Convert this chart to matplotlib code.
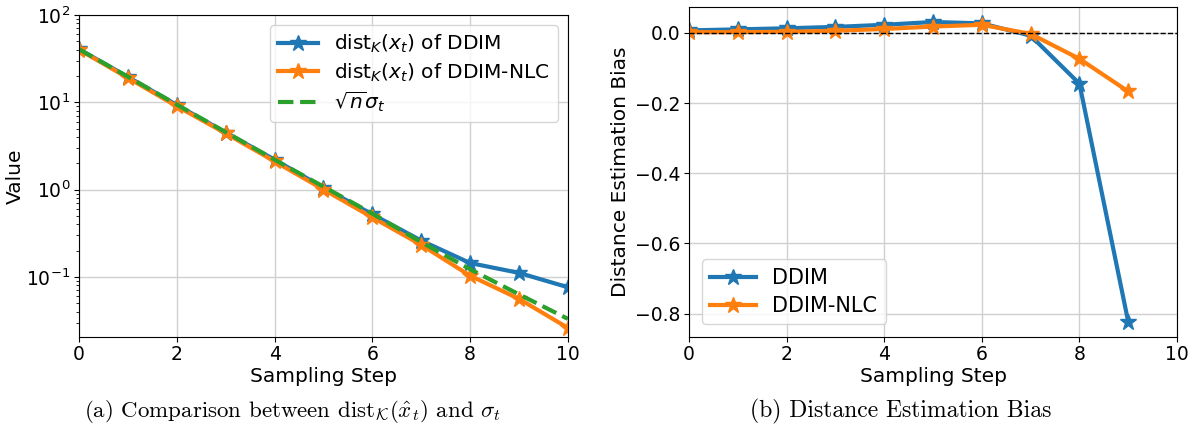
"""Distance comparison and estimation bias plots"""

import matplotlib
matplotlib.use('Agg')
import matplotlib.pyplot as plt

# left panel: distance values (log scale)
steps_a = [0, 1, 2, 3, 4, 5, 6, 7, 8, 9, 10]
dist_ddim = [40.5, 19.5, 9.3, 4.5, 2.2, 1.05, 0.52, 0.26, 0.144, 0.111, 0.076]
dist_nlc = [40.0, 19.0, 9.0, 4.4, 2.1, 1.0, 0.48, 0.232, 0.103, 0.056, 0.026]
sqrt_n_sigma = [40.5, 19.6, 9.4, 4.55, 2.2, 1.08, 0.53, 0.25, 0.122, 0.063, 0.033]

# right panel: bias
steps_b = [0, 1, 2, 3, 4, 5, 6, 7, 8, 9]
bias_ddim = [0.007, 0.010, 0.013, 0.017, 0.023, 0.031, 0.027, -0.008, -0.145, -0.824]
bias_nlc = [0.002, 0.002, 0.003, 0.006, 0.011, 0.018, 0.023, -0.003, -0.074, -0.167]

BLUE = '#1f77b4'
ORANGE = '#ff7f0e'
GREEN = '#2ca02c'

plt.rcParams['mathtext.fontset'] = 'dejavusans'

fig = plt.figure(figsize=(11.95, 4.26), dpi=100)
ax1 = fig.add_axes([0.0661, 0.209, 0.4092, 0.756])
ax2 = fig.add_axes([0.5766, 0.209, 0.4084, 0.7746])

# (a) comparison
ax1.plot(steps_a, dist_ddim, color=BLUE, lw=3, marker='*', ms=12,
         label=r'$\mathrm{dist}_K(x_t)$ of DDIM')
ax1.plot(steps_a, dist_nlc, color=ORANGE, lw=3, marker='*', ms=12,
         label=r'$\mathrm{dist}_K(x_t)$ of DDIM-NLC')
ax1.plot(steps_a, sqrt_n_sigma, color=GREEN, lw=3, ls='--',
         label=r'$\sqrt{n}\sigma_t$')
ax1.set_yscale('log')
ax1.set_ylim(0.0205, 100)
ax1.set_xlim(0, 10)
ax1.set_xticks([0, 2, 4, 6, 8, 10])
ax1.set_xlabel('Sampling Step', fontsize=14.5, labelpad=2)
ax1.set_ylabel('Value', fontsize=14.5, labelpad=1)
ax1.tick_params(labelsize=13.5, pad=2.5)
ax1.grid(True, color='#d0d0d0', lw=1)
ax1.legend(loc='upper right', fontsize=14.5, borderaxespad=0.5,
           handlelength=2.0, labelspacing=0.3)

# (b) bias
ax2.plot(steps_b, bias_ddim, color=BLUE, lw=3, marker='*', ms=12, label='DDIM')
ax2.plot(steps_b, bias_nlc, color=ORANGE, lw=3, marker='*', ms=12, label='DDIM-NLC')
ax2.axhline(y=0, color='black', linestyle='--', linewidth=1)
ax2.set_xlim(0, 10)
ax2.set_xticks([0, 2, 4, 6, 8, 10])
ax2.set_yticks([0.0, -0.2, -0.4, -0.6, -0.8])
ax2.set_xlabel('Sampling Step', fontsize=14.5, labelpad=2)
ax2.set_ylabel('Distance Estimation Bias', fontsize=14.5, labelpad=4)
ax2.tick_params(labelsize=13.5, pad=2.5)
ax2.grid(True, color='#d0d0d0', lw=1)
ax2.legend(loc='lower left', fontsize=15, borderaxespad=0.6,
           handlelength=2.2, labelspacing=0.4)

# captions
cap = dict(fontsize=16.5, family='cmr10', ha='center', va='center')
fig.text(0.245, 0.033, r'(a) Comparison between $\mathrm{dist}_{\mathcal{K}}(\hat{x}_t)$ and $\sigma_t$',
         math_fontfamily='cm', **cap)
fig.text(0.754, 0.033, '(b) Distance Estimation Bias', fontsize=17, family='cmr10',
         ha='center', va='center')

fig.savefig('out.png', dpi=100)
